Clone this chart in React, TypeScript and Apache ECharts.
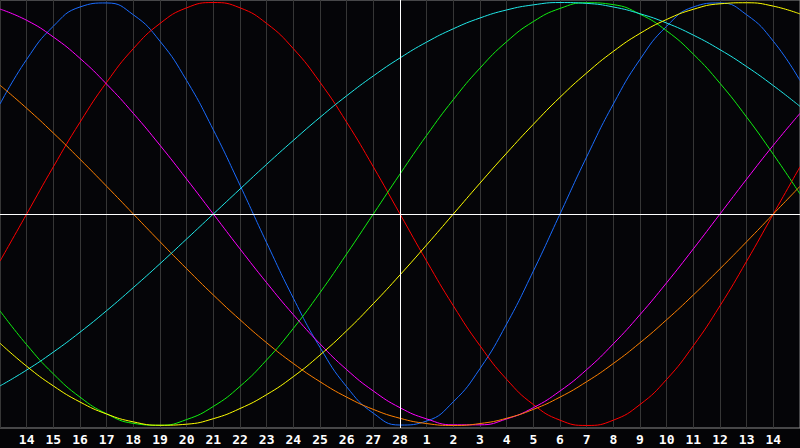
import React, { useEffect, useRef } from "react";
import * as echarts from "echarts";

// Day labels for each day slot (slot 0 .. 30); the first and last slots are edges without labels
const dayLabels = [
  "13", "14", "15", "16", "17", "18", "19", "20", "21", "22", "23", "24", "25", "26", "27", "28",
  "1", "2", "3", "4", "5", "6", "7", "8", "9", "10", "11", "12", "13", "14", "15",
];
const todaySlot = 15; // "28"

// Cycle values (-1 .. 1) read at each day slot
const physical23 = [0.52, 0.731, 0.888, 0.979, 0.998, 0.942, 0.817, 0.631, 0.398, 0.136, -0.136, -0.398, -0.631, -0.817, -0.942, -0.998, -0.979, -0.888, -0.731, -0.52, -0.27, 0, 0.27, 0.52, 0.731, 0.888, 0.979, 0.998, 0.942, 0.817, 0.631];
const emotional28 = [-0.223, 0, 0.223, 0.434, 0.623, 0.782, 0.901, 0.975, 1, 0.975, 0.901, 0.782, 0.623, 0.434, 0.223, 0, -0.223, -0.434, -0.623, -0.782, -0.901, -0.975, -1, -0.975, -0.901, -0.782, -0.623, -0.434, -0.223, 0, 0.223];
const intellectual33 = [-0.458, -0.618, -0.756, -0.866, -0.945, -0.99, -0.999, -0.972, -0.91, -0.815, -0.69, -0.541, -0.372, -0.189, 0, 0.189, 0.372, 0.541, 0.69, 0.815, 0.91, 0.972, 0.999, 0.99, 0.945, 0.866, 0.756, 0.618, 0.458, 0.282, 0.095];
const intuitive38 = [0.969, 0.916, 0.837, 0.736, 0.614, 0.476, 0.325, 0.165, 0, -0.165, -0.325, -0.476, -0.614, -0.736, -0.837, -0.916, -0.969, -0.997, -0.997, -0.969, -0.916, -0.837, -0.736, -0.614, -0.476, -0.325, -0.165, 0, 0.165, 0.325, 0.476];
const aesthetic43 = [-0.611, -0.72, -0.813, -0.889, -0.946, -0.983, -0.999, -0.994, -0.968, -0.92, -0.854, -0.769, -0.667, -0.552, -0.424, -0.288, -0.146, 0, 0.146, 0.288, 0.424, 0.552, 0.667, 0.769, 0.854, 0.92, 0.968, 0.994, 0.999, 0.983, 0.946];
const awareness48 = [0.609, 0.5, 0.383, 0.259, 0.131, 0, -0.131, -0.259, -0.383, -0.5, -0.609, -0.707, -0.793, -0.866, -0.924, -0.966, -0.991, -1, -0.991, -0.966, -0.924, -0.866, -0.793, -0.707, -0.609, -0.5, -0.383, -0.259, -0.131, 0, 0.131];
const spiritual53 = [-0.813, -0.738, -0.653, -0.559, -0.457, -0.348, -0.235, -0.118, 0, 0.118, 0.235, 0.348, 0.457, 0.559, 0.653, 0.738, 0.813, 0.876, 0.927, 0.965, 0.989, 1, 0.996, 0.979, 0.947, 0.903, 0.846, 0.777, 0.697, 0.607, 0.509];

const cycles = [
  { name: "Physical", values: physical23, color: "#1a6cff" },
  { name: "Emotional", values: emotional28, color: "#ff0000" },
  { name: "Intellectual", values: intellectual33, color: "#10f010" },
  { name: "Intuitive", values: intuitive38, color: "#ff00ff" },
  { name: "Awareness", values: awareness48, color: "#ff8000" },
  { name: "Spiritual", values: spiritual53, color: "#20e8e8" },
  { name: "Aesthetic", values: aesthetic43, color: "#ffff00" },
];

export default function App() {
  const ref = useRef<HTMLDivElement>(null);
  useEffect(() => {
    if (!ref.current) return;
    const chart = echarts.init(ref.current, undefined, { renderer: "svg" });
    const series: any[] = cycles.map((c) => ({
      name: c.name,
      type: "line",
      smooth: true,
      showSymbol: false,
      symbol: "none",
      lineStyle: { color: c.color, width: 1 },
      itemStyle: { color: c.color },
      data: c.values.map((v, k) => [k, v]),
      z: 3,
    }));
    series.unshift({
      name: "guides",
      type: "line",
      data: [],
      z: 2,
      markLine: {
        silent: true,
        symbol: "none",
        label: { show: false },
        lineStyle: { color: "#ffffff", width: 1, type: "solid" },
        data: [{ yAxis: 0 }, { xAxis: todaySlot }],
      },
    });
    chart.setOption({
      animation: false,
      backgroundColor: "#040406",
      grid: {
        left: 0,
        right: 0,
        top: 0,
        bottom: 20,
        show: true,
        borderColor: "#8a8a8a",
        borderWidth: 1,
        backgroundColor: "#050508",
      },
      xAxis: {
        type: "value",
        min: 0,
        max: dayLabels.length - 1,
        interval: 1,
        axisLine: { show: true, lineStyle: { color: "#9a9a9a", width: 1 } },
        axisTick: { show: false },
        splitLine: { show: true, lineStyle: { color: "#363636", width: 1 } },
        axisLabel: {
          showMinLabel: false,
          showMaxLabel: false,
          color: "#ffffff",
          fontFamily: "DejaVu Sans Mono",
          fontWeight: "bold",
          fontSize: 13,
          margin: 5,
          formatter: (v: number) => dayLabels[Math.round(v)] ?? "",
        },
      },
      yAxis: {
        type: "value",
        min: -1.012,
        max: 1.012,
        show: false,
        splitLine: { show: false },
      },
      series,
    });
    return () => chart.dispose();
  }, []);
  return (
    <div
      ref={ref}
      style={{ position: "fixed", left: 0, top: 0, width: 800, height: 448, background: "#040406" }}
    />
  );
}
